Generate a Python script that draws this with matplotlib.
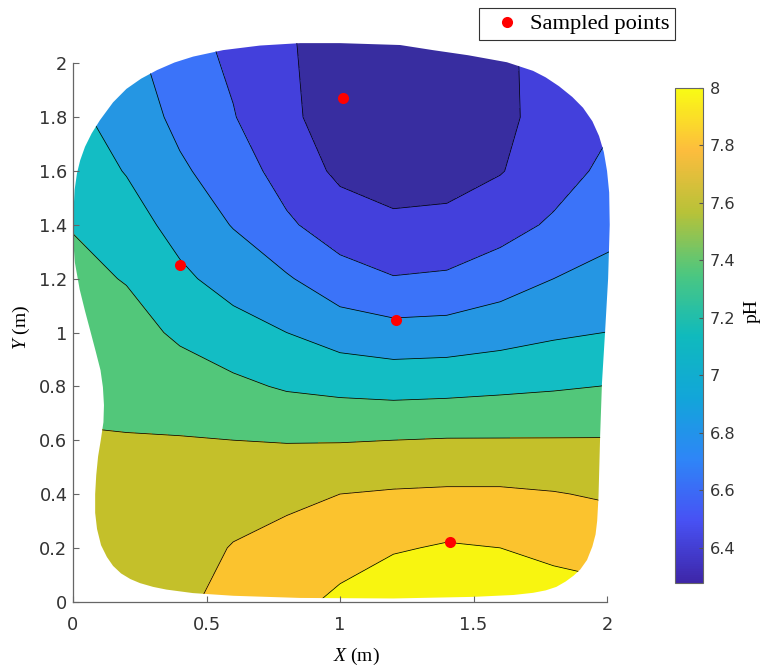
import numpy as np
import matplotlib
matplotlib.use("Agg")
import matplotlib.pyplot as plt
from matplotlib.colors import LinearSegmentedColormap, Normalize
from matplotlib.patches import Polygon
from matplotlib.ticker import FuncFormatter

plt.rcParams["mathtext.fontset"] = "custom"
plt.rcParams["mathtext.it"] = "Liberation Serif:italic"
plt.rcParams["mathtext.rm"] = "Liberation Serif"

# grid nodes (m)
grid_x = [0.0, 0.2, 0.4, 0.6, 0.8, 1.0, 1.2, 1.4, 1.6, 1.8, 2.05]
grid_y = [0.0, 0.2, 0.4, 0.6, 0.8, 1.0, 1.2, 1.4, 1.6, 1.8, 2.1]

# pH at the grid nodes, one row per grid_y value
ph = [
    [7.47, 7.50, 7.57, 7.65, 7.74, 7.84, 7.95, 7.99, 7.95, 7.90, 7.85],
    [7.45, 7.48, 7.52, 7.61, 7.66, 7.72, 7.78, 7.82, 7.80, 7.75, 7.72],
    [7.43, 7.45, 7.47, 7.52, 7.56, 7.60, 7.62, 7.63, 7.63, 7.61, 7.57],
    [7.41, 7.41, 7.41, 7.40, 7.39, 7.39, 7.40, 7.41, 7.41, 7.41, 7.41],
    [7.37, 7.34, 7.29, 7.24, 7.18, 7.15, 7.13, 7.14, 7.16, 7.18, 7.21],
    [7.31, 7.27, 7.17, 7.08, 7.00, 6.91, 6.87, 6.88, 6.92, 6.97, 7.01],
    [7.25, 7.19, 7.04, 6.92, 6.82, 6.68, 6.61, 6.63, 6.71, 6.80, 6.86],
    [7.19, 7.09, 6.93, 6.79, 6.63, 6.50, 6.43, 6.44, 6.52, 6.63, 6.76],
    [7.11, 6.99, 6.83, 6.70, 6.52, 6.36, 6.33, 6.34, 6.39, 6.51, 6.68],
    [7.04, 6.92, 6.75, 6.61, 6.44, 6.31, 6.29, 6.30, 6.37, 6.45, 6.60],
    [6.95, 6.84, 6.67, 6.55, 6.42, 6.31, 6.30, 6.32, 6.39, 6.42, 6.52],
]

levels = [6.278, 6.4, 6.6, 6.8, 7.0, 7.2, 7.4, 7.6, 7.8, 8.0]
band_colors = ["#382da0", "#4340dc", "#3b73f9", "#2596e3", "#13bdc4",
               "#52c77a", "#c4c02a", "#fbc32e", "#f8f510"]

# outline of the surveyed area
boundary_x = [1.225, 1.0, 0.85, 0.70, 0.562, 0.45, 0.38, 0.315, 0.255, 0.20,
              0.15, 0.101, 0.07, 0.045, 0.027, 0.015, 0.006, 0.002, 0.0, 0.007,
              0.025, 0.045, 0.064, 0.085, 0.103, 0.112, 0.116, 0.114, 0.104, 0.094,
              0.087, 0.083, 0.083, 0.09, 0.105, 0.127, 0.15, 0.18, 0.215, 0.251,
              0.30, 0.35, 0.449, 0.6, 0.85, 1.2, 1.5, 1.65, 1.723, 1.77,
              1.81, 1.845, 1.875, 1.90, 1.925, 1.945, 1.957, 1.963, 1.968, 1.974,
              1.981, 1.993, 2.004, 2.010, 2.008, 2.0, 1.988, 1.97, 1.945, 1.91,
              1.87, 1.82, 1.77, 1.723, 1.625, 1.48, 1.348]
boundary_y = [2.068, 2.075, 2.075, 2.066, 2.049, 2.025, 2.003, 1.975, 1.943, 1.905,
              1.855, 1.789, 1.74, 1.69, 1.64, 1.592, 1.53, 1.45, 1.355, 1.26,
              1.16, 1.08, 1.009, 0.93, 0.86, 0.797, 0.73, 0.667, 0.6, 0.54,
              0.47, 0.40, 0.33, 0.27, 0.21, 0.166, 0.133, 0.105, 0.084, 0.069,
              0.055, 0.045, 0.032, 0.022, 0.014, 0.012, 0.018, 0.025, 0.033, 0.042,
              0.055, 0.075, 0.097, 0.12, 0.155, 0.205, 0.25, 0.30, 0.389, 0.612,
              0.813, 1.009, 1.2, 1.40, 1.52, 1.60, 1.67, 1.73, 1.785, 1.835,
              1.875, 1.915, 1.948, 1.972, 2.004, 2.03, 2.049]

# sampled locations
sample_x = [0.40, 1.01, 1.21, 1.41]
sample_y = [1.25, 1.87, 1.045, 0.22]

parula = LinearSegmentedColormap.from_list("parula", [
    (0.0, (0.242, 0.150, 0.660)),
    (0.125, (0.280, 0.320, 0.958)),
    (0.25, (0.180, 0.525, 0.968)),
    (0.375, (0.070, 0.650, 0.850)),
    (0.5, (0.060, 0.730, 0.740)),
    (0.625, (0.300, 0.780, 0.500)),
    (0.75, (0.720, 0.760, 0.220)),
    (0.875, (0.990, 0.740, 0.240)),
    (1.0, (0.977, 0.984, 0.080)),
])

fig = plt.figure(figsize=(7.67, 6.72), dpi=100)
ax = fig.add_axes([73 / 767, 70.3 / 672, 547.4 / 767, 565.3 / 672])

X, Y = np.meshgrid(grid_x, grid_y)
Z = np.array(ph)

outline = Polygon(np.column_stack([boundary_x, boundary_y]), closed=True,
                  facecolor="none", edgecolor="none")
ax.add_patch(outline)

cf = ax.contourf(X, Y, Z, levels=levels, colors=band_colors)
cl = ax.contour(X, Y, Z, levels=levels[1:-1], colors="black", linewidths=0.55)
cf.set_clip_path(outline)
cl.set_clip_path(outline)

ax.plot(sample_x, sample_y, "o", color="#ff0000", markersize=8,
        markeredgewidth=0, label="Sampled points", zorder=5)

ax.set_xlim(0, 2.05)
ax.set_ylim(0, 2.1)
ax.set_xticks([0, 0.5, 1, 1.5, 2])
ax.set_yticks(np.arange(0, 2.01, 0.2))
fmt = FuncFormatter(lambda v, p: "{:g}".format(round(v, 2)))
ax.xaxis.set_major_formatter(fmt)
ax.yaxis.set_major_formatter(fmt)
for s in ["top", "right"]:
    ax.spines[s].set_visible(False)
ax.spines["left"].set_bounds(0, 2)
ax.spines["bottom"].set_bounds(0, 2)
for s in ["left", "bottom"]:
    ax.spines[s].set_color("#666666")
    ax.spines[s].set_linewidth(0.9)
ax.tick_params(direction="in", length=4, width=0.8, color="#666666",
               labelsize=12.8, labelcolor="#333333")
ax.tick_params(axis="x", pad=10)
ax.tick_params(axis="y", pad=4)

ax.set_xlabel(r"$X$ (m)", fontsize=14, family="Liberation Serif")
ax.set_ylabel(r"$Y$ (m)", fontsize=14, family="Liberation Serif")
ax.xaxis.set_label_coords(0.517, -0.078)
ax.yaxis.set_label_coords(-0.075, 0.486)

# continuous colour bar
cax = fig.add_axes([675 / 767, 89 / 672, 28 / 767, 495 / 672])
sm = plt.cm.ScalarMappable(norm=Normalize(6.278, 8.0), cmap=parula)
cb = fig.colorbar(sm, cax=cax)
cb.set_ticks([6.4, 6.6, 6.8, 7.0, 7.2, 7.4, 7.6, 7.8, 8.0])
cb.ax.yaxis.set_major_formatter(fmt)
cb.outline.set_edgecolor("#666666")
cb.outline.set_linewidth(0.8)
cb.ax.tick_params(direction="in", length=3, width=0.8, color="#555555",
                  labelsize=11.6, labelcolor="#333333", pad=5)
cb.set_label("pH", fontsize=14, family="Liberation Serif")
cb.ax.yaxis.set_label_coords(2.45, 0.55)

leg = fig.legend(loc="upper left", bbox_to_anchor=(479 / 767, 1 - 8 / 672),
                 borderaxespad=0, fancybox=False, edgecolor="#333333",
                 prop={"family": "Liberation Serif", "size": 16.2},
                 handlelength=2.0, handletextpad=0.0, borderpad=0.25,
                 framealpha=1)
leg.get_frame().set_linewidth(0.8)

fig.savefig("out.png", dpi=100)
